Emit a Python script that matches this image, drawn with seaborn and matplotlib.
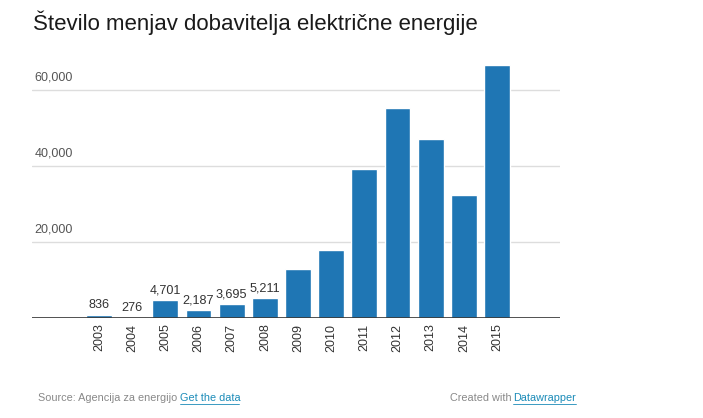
import numpy as np
import pandas as pd
import matplotlib
matplotlib.use("Agg")
import matplotlib.pyplot as plt
import seaborn as sns

# podatki
years = ["2003", "2004", "2005", "2006", "2007", "2008", "2009",
         "2010", "2011", "2012", "2013", "2014", "2015"]
changes = [836, 276, 4701, 2187, 3695, 5211, 12900,
           17900, 39200, 55300, 47100, 32400, 66600]
shown_labels = ["836", "276", "4,701", "2,187", "3,695", "5,211",
                "", "", "", "", "", "", ""]
y_ticks = [20000, 40000, 60000]

data = pd.DataFrame({"year": years, "changes": changes})

sns.set_style("white")
plt.rcParams['font.family'] = ['Liberation Sans', 'DejaVu Sans']

fig = plt.figure(figsize=(7.03, 4.18), dpi=100)
ax = fig.add_axes([0.0455, 0.2392, 0.7511, 0.6364])

sns.barplot(x="year", y="changes", data=data, color="#1f76b4",
            saturation=1, width=0.78, ax=ax)

ax.set_xlim(-2.02, 13.9)
ax.set_ylim(0, 70000)

# mreža
for v in y_ticks:
    ax.axhline(v, color="#dddddd", lw=1, zorder=0)
    ax.text(0.005, v + 1600, "{:,}".format(v), transform=ax.get_yaxis_transform(),
            ha="left", va="bottom", fontsize=9, color="#555555")
ax.axhline(0, color="#333333", lw=1.2, zorder=3)

# oznake vrednosti
for i, lab in enumerate(shown_labels):
    if lab:
        ax.text(i, changes[i] + 900, lab, ha="center", va="bottom",
                fontsize=9.1, color="#333333")

ax.set_yticks([])
ax.set_xticks(range(len(years)))
ax.set_xticklabels(years, rotation=90, fontsize=9, color="#333333")
ax.tick_params(axis="x", length=0, pad=4)
ax.set_xlabel("")
ax.set_ylabel("")
for s in ax.spines.values():
    s.set_visible(False)

fig.text(0.047, 0.945, "Število menjav dobavitelja električne energije",
         fontsize=16, color="#1a1a1a", va="center", ha="left")

fig.text(0.054, 0.047, "Source: Agencija za energijo", fontsize=7.8,
         color="#888888", va="center", ha="left")
fig.text(0.256, 0.047, "Get the data", fontsize=7.8, color="#1a8bb8",
         va="center", ha="left")
fig.add_artist(plt.Line2D([0.256, 0.340], [0.034, 0.034], color="#1a8bb8", lw=0.6))
fig.text(0.640, 0.047, "Created with", fontsize=7.8, color="#888888",
         va="center", ha="left")
fig.text(0.730, 0.047, "Datawrapper", fontsize=7.8, color="#1a8bb8",
         va="center", ha="left")
fig.add_artist(plt.Line2D([0.730, 0.819], [0.034, 0.034], color="#1a8bb8", lw=0.6))

fig.savefig("out.png", dpi=100, facecolor="white")
